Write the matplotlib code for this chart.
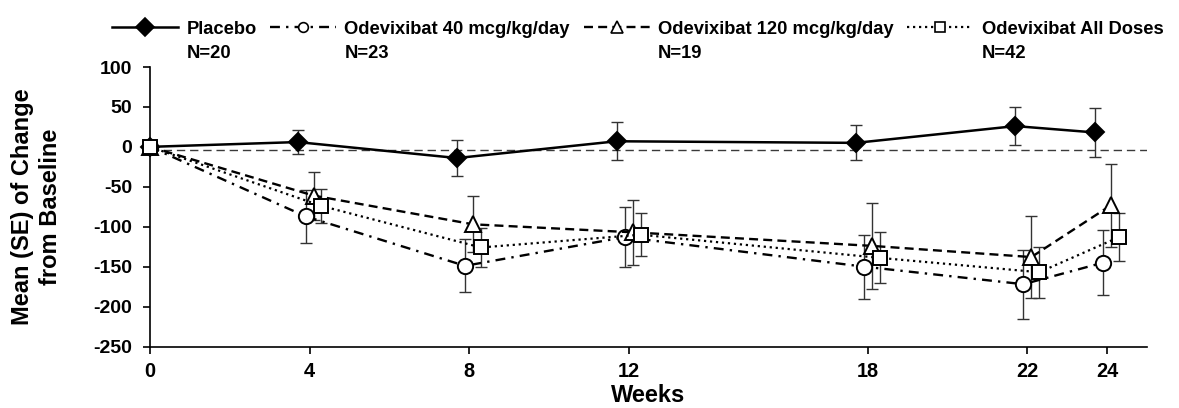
import matplotlib
matplotlib.use('Agg')
import matplotlib.pyplot as plt
from matplotlib.lines import Line2D
import numpy as np

# ---------------- data ----------------
weeks = [0, 4, 8, 12, 18, 22, 24]
placebo_mean = [0, 6, -14, 7, 5, 26, 18]
placebo_se = [0, 15, 22, 24, 22, 24, 31]
odx40_mean = [0, -87, -149, -113, -150, -172, -145]
odx40_se = [0, 33, 33, 38, 40, 43, 41]
odx120_mean = [0, -61, -97, -107, -124, -138, -73]
odx120_se = [0, 30, 35, 41, 54, 51, 52]
odxall_mean = [0, -74, -126, -110, -139, -157, -113]
odxall_se = [0, 21, 24, 27, 32, 32, 30]

series_labels = ['Placebo', 'Odevixibat 40 mcg/kg/day',
                 'Odevixibat 120 mcg/kg/day', 'Odevixibat All Doses']
series_n = ['N=20', 'N=23', 'N=19', 'N=42']
x_ticks = [0, 4, 8, 12, 18, 22, 24]
y_ticks = [100, 50, 0, -50, -100, -150, -200, -250]
ref_level = -3.5

# ---------------- style ----------------
plt.rcParams['font.family'] = ['Liberation Sans', 'DejaVu Sans']
plt.rcParams['font.weight'] = 'bold'
plt.rcParams['axes.unicode_minus'] = False

W, H = 1179, 408
fig = plt.figure(figsize=(W / 100, H / 100), dpi=100)
ax = fig.add_axes([150 / W, 1 - 346.5 / H, 997 / W, 279.5 / H])

styles = [
    dict(marker='D', ms=9.5, mfc='black', ls='-', lw=1.8, off=-0.3, leg_ms=9.5),
    dict(marker='o', ms=11, mfc='white', ls=(0, (4.2, 2.6, 1, 2.6)), lw=1.7, off=-0.1, leg_ms=7),
    dict(marker='^', ms=11.5, mfc='white', ls=(0, (3.8, 2.2)), lw=1.7, off=0.1, leg_ms=8),
    dict(marker='s', ms=9.5, mfc='white', ls=(0, (1, 1.7)), lw=1.6, off=0.3, leg_ms=7),
]
means = [placebo_mean, odx40_mean, odx120_mean, odxall_mean]
ses = [placebo_se, odx40_se, odx120_se, odxall_se]

ax.axhline(ref_level, color='#3a3a3a', lw=1.0, ls=(0, (6, 3.5)), zorder=1)

wk = np.array(weeks, dtype=float)
handles = []
for st, m, s, lab in zip(styles, means, ses, series_labels):
    x = np.where(wk > 0, wk + st['off'], wk)
    ax.errorbar(x, m, yerr=s, fmt='none', ecolor='#333333', elinewidth=1.0,
                capsize=4.2, capthick=1.0, zorder=2, clip_on=False)
    ax.plot(x, m, color='black', ls=st['ls'], lw=st['lw'], marker=st['marker'],
            ms=st['ms'], mfc=st['mfc'], mec='black', mew=1.4, zorder=3,
            clip_on=False)
    handles.append(Line2D([], [], color='black', ls=st['ls'], lw=st['lw'],
                          marker=st['marker'], ms=st['leg_ms'], mfc=st['mfc'],
                          mec='black', mew=1.2, label=lab))

ax.set_xlim(0, 25)
ax.set_ylim(-250, 100)
ax.set_xticks(x_ticks)
ax.set_xticklabels([str(v) for v in x_ticks])
ax.set_yticks(y_ticks)
ax.set_yticklabels([str(v) for v in y_ticks])
for side in ('top', 'right'):
    ax.spines[side].set_visible(False)
for side in ('left', 'bottom'):
    ax.spines[side].set_linewidth(1.2)
ax.tick_params(axis='both', direction='out', length=5, width=1.2)
ax.tick_params(axis='x', labelsize=14.4, pad=6.5)
ax.tick_params(axis='y', labelsize=14, pad=8)

ax.set_xlabel('Weeks', fontsize=17, fontweight='bold', va='center')
ax.xaxis.set_label_coords(0.5, -(396 - 346.5) / 279.5)
ax.set_ylabel('Mean (SE) of Change\nfrom Baseline', fontsize=17,
              fontweight='bold', va='center', ha='center', linespacing=1.25)
ax.yaxis.set_label_coords((36.5 - 150) / 997, 0.5)

leg = fig.legend(handles=handles, loc='center left',
                 bbox_to_anchor=(112 / W, 1 - 29 / H), ncol=4, frameon=False,
                 fontsize=13.2, handlelength=3.6, handletextpad=0.45,
                 columnspacing=0.75, borderpad=0, borderaxespad=0, numpoints=1)
for t in leg.get_texts():
    t.set_fontweight('bold')

fig.canvas.draw()
for t, n in zip(leg.get_texts(), series_n):
    bb = t.get_window_extent()
    yc = (bb.y0 + bb.y1) / 2 - 25
    fig.text(bb.x0 / W, yc / H, n, fontsize=13.2, fontweight='bold',
             ha='left', va='center')

fig.savefig('out.png', dpi=100)
